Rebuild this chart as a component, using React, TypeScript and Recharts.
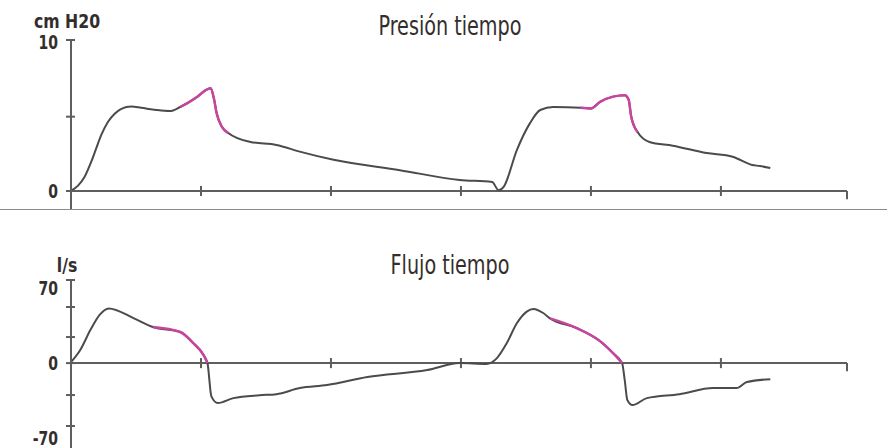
import { LineChart, Line, XAxis, YAxis, ReferenceLine } from 'recharts'

// time axis (one tick every unit, axis ends just before 6)
const TIME_TICKS = [1, 2, 3, 4, 5]
const TIME_END = 5.97

// presión (cm H20)
const pressureT = [0, 0.054, 0.105, 0.156, 0.194, 0.233, 0.285, 0.336, 0.387, 0.464, 0.54, 0.656, 0.76, 0.84, 0.97, 1.04, 1.075, 1.1, 1.12, 1.16, 1.21, 1.38, 1.58, 1.76, 2.02, 2.53, 2.99, 3.24, 3.29, 3.33, 3.43, 3.53, 3.61, 3.71, 3.92, 4.0, 4.07, 4.17, 4.26, 4.29, 4.31, 4.36, 4.45, 4.63, 4.89, 5.09, 5.24, 5.3, 5.38]
const pressureV = [0, 0.36, 0.96, 1.97, 2.87, 3.77, 4.66, 5.2, 5.53, 5.69, 5.6, 5.45, 5.38, 5.65, 6.33, 6.8, 6.92, 6.2, 5.25, 4.33, 3.9, 3.3, 3.1, 2.65, 2.1, 1.4, 0.74, 0.6, 0.05, 0.3, 2.75, 4.55, 5.45, 5.65, 5.6, 5.55, 6.0, 6.35, 6.45, 6.15, 5.0, 3.95, 3.3, 3.05, 2.55, 2.3, 1.75, 1.68, 1.55]
const pressureMagenta = [[0.84, 1.21], [3.92, 4.36]]
const pressureMarks = [10.16, 5, 0]
const pressureLabels = [10, 0]

// flujo (l/s)
const flowT = [0, 0.07, 0.15, 0.22, 0.29, 0.48, 0.63, 0.84, 0.94, 1.02, 1.05, 1.08, 1.13, 1.25, 1.45, 1.58, 1.76, 1.97, 2.28, 2.74, 2.99, 3.196, 3.275, 3.352, 3.43, 3.506, 3.557, 3.633, 3.685, 3.89, 4.07, 4.17, 4.24, 4.26, 4.28, 4.32, 4.43, 4.68, 4.94, 5.12, 5.2, 5.38]
const flowV = [0.9, 12, 31, 45, 51, 42, 33.6, 29, 18.7, 7.5, 0, -31, -37.3, -32.7, -30, -29, -23.3, -20.5, -13, -6.5, 0, -0.8, 4.4, 18.5, 37.1, 48, 50.5, 46.7, 41.7, 32.7, 20.5, 9.3, 0, -15.9, -34.5, -39.2, -32.7, -29, -23.3, -23.3, -17.7, -15]
const flowMagenta = [[0.63, 1.05], [3.685, 4.24]]
const flowMarks = [77.5, 52.3, 24.3, 0, -29.8, -58.7]
const flowLabels = [70, 0, -70]

const GRAY = '#4b4b4b'
const MAGENTA = '#c8449e'
const AXIS = '#5e5e5e'
const TEXT = '#332e2c'
const FONT = '"DejaVu Sans Condensed", "Liberation Sans Narrow", "Noto Sans", sans-serif'

function buildRows(ts: number[], vs: number[], ranges: number[][]) {
  return ts.map((t, i) => ({
    t,
    v: vs[i],
    hi: ranges.some(([a, b]) => t >= a && t <= b) ? vs[i] : null,
  }))
}

function makeTick(marks: number[], labels: number[]) {
  return (props: any) => {
    const { x, y, payload } = props
    const v = payload.value
    return (
      <g>
        {marks.includes(v) && (
          <line x1={x - 5} x2={x + 4} y1={y} y2={y} stroke={AXIS} strokeWidth={2} />
        )}
        {labels.includes(v) && (
          <text
            transform={`translate(${x - 13},${y}) scale(0.82,1)`}
            dy="0.36em"
            textAnchor="end"
            fill={TEXT}
            fontFamily={FONT}
            fontWeight="bold"
            fontSize={19}
          >
            {v}
          </text>
        )}
      </g>
    )
  }
}

interface PanelProps {
  rows: Array<Record<string, any>>
  domain: [number, number]
  marks: number[]
  labels: number[]
  tickHalf: number
  endDrop: number
  marginBottom: number
}

function Panel({ rows, domain, marks, labels, tickHalf, endDrop, marginBottom }: PanelProps) {
  const ticks = Array.from(new Set([...marks, ...labels]))
  return (
    <LineChart
      width={887}
      height={215}
      data={rows}
      margin={{ top: 40, right: 40, bottom: marginBottom, left: 0 }}
    >
      <XAxis dataKey="t" type="number" domain={[0, TIME_END]} hide />
      <YAxis
        type="number"
        domain={domain}
        ticks={ticks}
        interval={0}
        allowDataOverflow
        width={71}
        tickSize={0}
        tickMargin={0}
        tickLine={false}
        axisLine={{ stroke: AXIS, strokeWidth: 2 }}
        tick={makeTick(marks, labels)}
      />
      <ReferenceLine y={0} stroke={AXIS} strokeWidth={2} />
      {TIME_TICKS.map((t) => (
        <ReferenceLine
          key={t}
          segment={[{ x: t, y: -tickHalf }, { x: t, y: tickHalf }]}
          stroke={AXIS}
          strokeWidth={2}
        />
      ))}
      <ReferenceLine
        segment={[{ x: TIME_END, y: 0 }, { x: TIME_END, y: -endDrop }]}
        stroke={AXIS}
        strokeWidth={2}
      />
      <Line
        dataKey="v"
        type="monotone"
        stroke={GRAY}
        strokeWidth={2}
        dot={false}
        isAnimationActive={false}
      />
      <Line
        dataKey="hi"
        type="monotone"
        stroke={MAGENTA}
        strokeWidth={2.5}
        dot={false}
        connectNulls={false}
        isAnimationActive={false}
      />
    </LineChart>
  )
}

const titleStyle: React.CSSProperties = {
  position: 'absolute',
  left: 300,
  width: 300,
  textAlign: 'center',
  fontFamily: FONT,
  fontSize: 26,
  lineHeight: '26px',
  color: TEXT,
  transform: 'scaleX(0.82)',
}

const unitStyle: React.CSSProperties = {
  position: 'absolute',
  left: 17,
  width: 100,
  textAlign: 'center',
  fontFamily: FONT,
  fontWeight: 'bold',
  fontSize: 19,
  lineHeight: '19px',
  color: TEXT,
  transform: 'scaleX(0.92)',
}

export default function App() {
  const pressureRows = buildRows(pressureT, pressureV, pressureMagenta)
  const flowRows = buildRows(flowT, flowV, flowMagenta)

  return (
    <div
      style={{
        position: 'absolute',
        left: 0,
        top: 0,
        width: 887,
        height: 448,
        overflow: 'hidden',
        background: '#fff',
      }}
    >
      <div style={{ position: 'absolute', left: 0, top: 0 }}>
        <Panel
          rows={pressureRows}
          domain={[-1.28, 10.16]}
          marks={pressureMarks}
          labels={pressureLabels}
          tickHalf={0.34}
          endDrop={0.55}
          marginBottom={5}
        />
      </div>
      <div style={{ position: 'absolute', left: 0, top: 240 }}>
        <Panel
          rows={flowRows}
          domain={[-82, 77.5]}
          marks={flowMarks}
          labels={flowLabels}
          tickHalf={4.7}
          endDrop={7.5}
          marginBottom={4}
        />
      </div>
      <div
        style={{
          position: 'absolute',
          left: 0,
          top: 209,
          width: 887,
          height: 1,
          background: '#8e8a86',
        }}
      />
      <div style={{ ...titleStyle, top: 13 }}>Presión tiempo</div>
      <div style={{ ...titleStyle, top: 252 }}>Flujo tiempo</div>
      <div style={{ ...unitStyle, top: 12 }}>cm H20</div>
      <div style={{ ...unitStyle, top: 256 }}>l/s</div>
    </div>
  )
}
